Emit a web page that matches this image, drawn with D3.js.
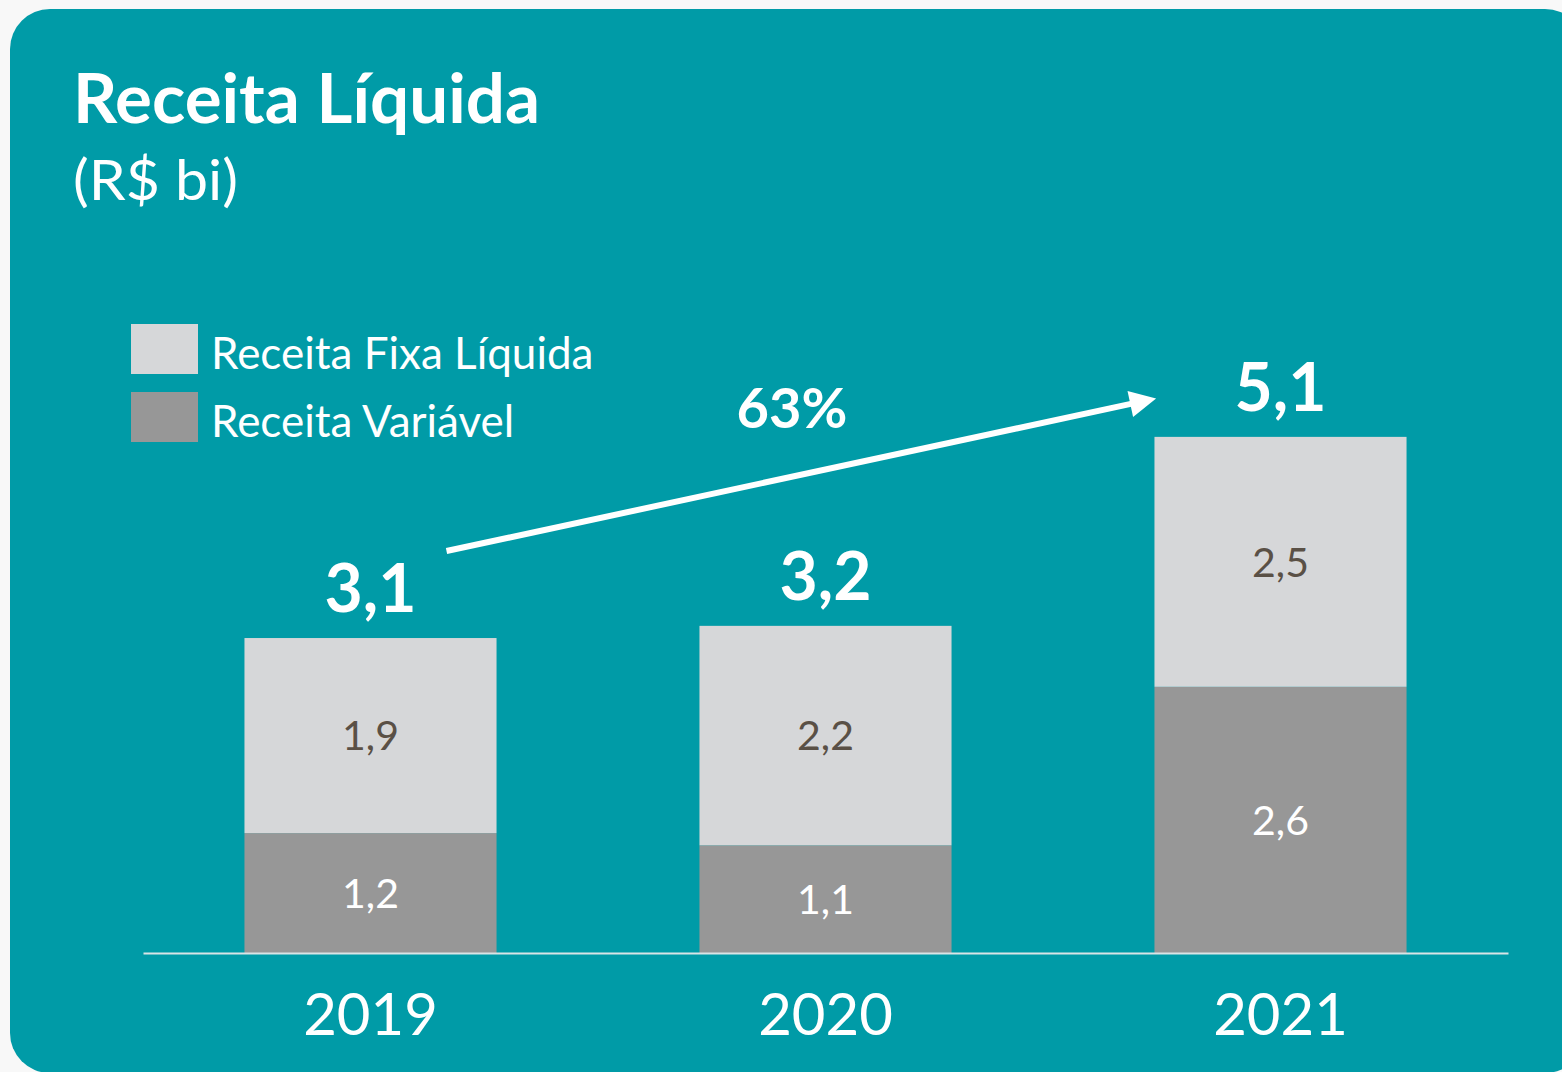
<!DOCTYPE html>
<html>
<head>
<meta charset="utf-8">
<script src="https://cdn.jsdelivr.net/npm/d3@7"></script>
<style>
  body { margin: 0; background: #f8f8f8; }
  svg text { font-family: Lato, "Open Sans", sans-serif; }
</style>
</head>
<body>
<div id="container"></div>
<script>
/* DATA */
const years = ["2019", "2020", "2021"];
const variavel = [1.18, 1.06, 2.62];   // Receita Variável (bottom)
const fixa = [1.92, 2.16, 2.46];       // Receita Fixa Líquida (top)
const growthLabel = "63%";
const seriesNames = ["Receita Fixa Líquida", "Receita Variável"];

/* CONSTANTS */
const width = 1562, height = 1072;
const teal = "#009ba7", light = "#d6d7d9", dark = "#979797";
const baseY = 953;

const fmt = v => d3.format(".1f")(v).replace(".", ",");

const data = years.map((y, i) => ({ year: y, variavel: variavel[i], fixa: fixa[i], total: variavel[i] + fixa[i] }));

/* SCALES */
const xScale = d3.scaleBand()
  .domain(years)
  .range([143, 1508])
  .paddingInner(0.446)
  .paddingOuter(0.223);

const yScale = d3.scaleLinear()
  .domain([0, 6])
  .range([baseY, baseY - 6 * 101.6]);

/* SVG */
const svg = d3.select("#container")
  .append("svg")
  .attr("width", width)
  .attr("height", height);

// panel
svg.append("rect")
  .attr("x", 10).attr("y", 9)
  .attr("width", 1575).attr("height", 1064)
  .attr("rx", 40).attr("ry", 40)
  .attr("fill", teal);

// title
svg.append("text")
  .attr("x", 73).attr("y", 123)
  .attr("fill", "white")
  .attr("font-size", 68).attr("font-weight", 700)
  .attr("textLength", 467).attr("lengthAdjust", "spacingAndGlyphs")
  .text("Receita Líquida");

svg.append("text")
  .attr("x", 73).attr("y", 200)
  .attr("fill", "white")
  .attr("font-size", 56)
  .attr("textLength", 165).attr("lengthAdjust", "spacingAndGlyphs")
  .text("(R$ bi)");

// legend
const legend = svg.append("g");
const legendColors = [light, dark];
seriesNames.forEach((name, i) => {
  legend.append("rect")
    .attr("x", 131).attr("y", 324 + i * 68)
    .attr("width", 67).attr("height", 50)
    .attr("fill", legendColors[i]);
  legend.append("text")
    .attr("x", 211).attr("y", 369 + i * 68)
    .attr("fill", "white")
    .attr("font-size", 44)
    .text(name);
});

// bars
const bars = svg.selectAll("g.bar")
  .data(data)
  .join("g")
  .attr("class", "bar");

bars.append("rect")
  .attr("x", d => xScale(d.year))
  .attr("y", d => yScale(d.variavel))
  .attr("width", xScale.bandwidth())
  .attr("height", d => baseY - yScale(d.variavel))
  .attr("fill", dark);

bars.append("rect")
  .attr("x", d => xScale(d.year))
  .attr("y", d => yScale(d.total))
  .attr("width", xScale.bandwidth())
  .attr("height", d => yScale(d.variavel) - yScale(d.total))
  .attr("fill", light);

// segment labels
bars.append("text")
  .attr("x", d => xScale(d.year) + xScale.bandwidth() / 2)
  .attr("y", d => (yScale(d.variavel) + baseY) / 2)
  .attr("dy", "0.36em")
  .attr("text-anchor", "middle")
  .attr("fill", "white")
  .attr("font-size", 41)
  .text(d => fmt(d.variavel));

bars.append("text")
  .attr("x", d => xScale(d.year) + xScale.bandwidth() / 2)
  .attr("y", d => (yScale(d.variavel) + yScale(d.total)) / 2)
  .attr("dy", "0.36em")
  .attr("text-anchor", "middle")
  .attr("fill", "#5a5046")
  .attr("font-size", 41)
  .text(d => fmt(d.fixa));

// totals
bars.append("text")
  .attr("x", d => xScale(d.year) + xScale.bandwidth() / 2)
  .attr("y", d => yScale(d.total) - 26)
  .attr("text-anchor", "middle")
  .attr("fill", "white")
  .attr("font-size", 66).attr("font-weight", 700)
  .text(d => fmt(d.total));

// axis
const xAxis = d3.axisBottom(xScale).tickSize(0).tickSizeOuter(0);
const axisG = svg.append("g")
  .attr("transform", `translate(0,${baseY})`)
  .call(xAxis);
axisG.select(".domain").attr("stroke", "#d9e4e6").attr("stroke-width", 2);
axisG.selectAll(".tick text")
  .attr("dy", null)
  .attr("y", 82)
  .attr("fill", "white")
  .attr("font-size", 58)
  .attr("font-family", "Lato, 'Open Sans', sans-serif");

// growth arrow
const x0 = xScale("2019") + xScale.bandwidth() / 2 + 76;
const y0 = yScale(data[0].total) - 87;
const x1 = xScale("2021");
const y1 = yScale(data[2].total) - 38;

svg.append("defs").append("marker")
  .attr("id", "head")
  .attr("viewBox", "0 0 10 10")
  .attr("refX", 2).attr("refY", 5)
  .attr("markerWidth", 5).attr("markerHeight", 4.4)
  .attr("markerUnits", "strokeWidth")
  .attr("orient", "auto")
  .append("path")
  .attr("d", "M0,0 L10,5 L0,10 Z")
  .attr("fill", "white");

svg.append("line")
  .attr("x1", x0).attr("y1", y0)
  .attr("x2", x1 - 19).attr("y2", y1 + 4)
  .attr("stroke", "white")
  .attr("stroke-width", 6)
  .attr("marker-end", "url(#head)");

svg.append("text")
  .attr("x", 792).attr("y", 428)
  .attr("text-anchor", "middle")
  .attr("fill", "white")
  .attr("font-size", 56).attr("font-weight", 700)
  .text(growthLabel);
</script>
</body>
</html>
